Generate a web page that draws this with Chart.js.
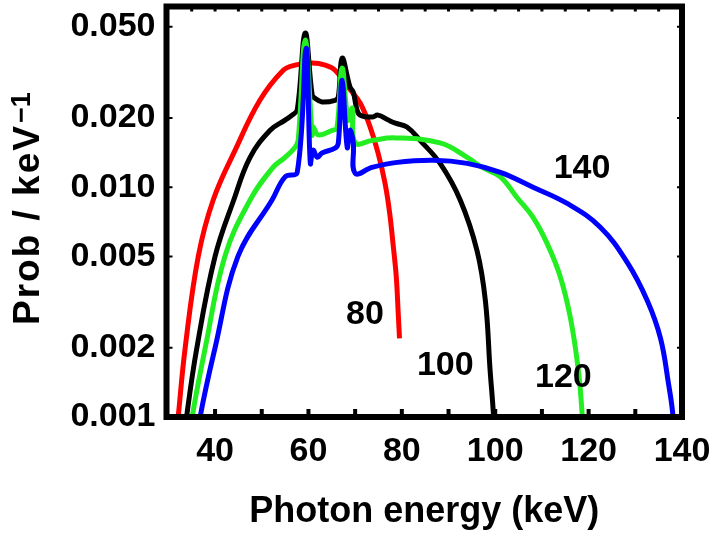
<!DOCTYPE html>
<html>
<head>
<meta charset="utf-8">
<script src="https://cdn.jsdelivr.net/npm/chart.js@4.4.0/dist/chart.umd.min.js"></script>
<style>
body { margin: 0; background: #fff; }
</style>
</head>
<body>
<canvas id="grafica" width="714" height="539"></canvas>
<script>
//SPECTRA (energy in keV, probability per keV)

var redE = [31.6, 32.1, 33.6, 36.4, 39.6, 44.3, 49.6, 54.6, 57.1, 60.8, 63.6, 65.7, 68.5, 71.1, 73.2, 74.9, 76.4, 77.4, 78.1, 78.8, 79.2, 79.5];
var redP = [0.0008, 0.001, 0.002, 0.005, 0.0088, 0.0145, 0.0239, 0.0323, 0.034, 0.0347, 0.034, 0.0323, 0.0273, 0.0232, 0.0183, 0.0141, 0.0104, 0.0077, 0.0057, 0.0041, 0.0029, 0.0022];

var blackE = [33.5, 33.9, 36.1, 40.0, 44.0, 47.5, 51.8, 55.0, 56.5, 57.6, 59.3, 60.8, 61.4, 62.9, 65.7, 66.4, 67.2, 68.9, 69.6, 70.4, 71.1, 73.6, 74.9, 77.1, 78.6, 81.1, 83.9, 88.2, 92.5, 96.1, 97.9, 98.9, 99.6, 99.8];
var blackP = [0.0008, 0.001, 0.002, 0.005, 0.0088, 0.0135, 0.0177, 0.0196, 0.0206, 0.0217, 0.0469, 0.0252, 0.0244, 0.0235, 0.0239, 0.0247, 0.0365, 0.0273, 0.0259, 0.0217, 0.0206, 0.0202, 0.0206, 0.0196, 0.019, 0.0183, 0.016, 0.0127, 0.0088, 0.0053, 0.0032, 0.0016, 0.00104, 0.0008];

var greenE = [34.7, 35.1, 37.9, 42.1, 47.5, 52.4, 55.0, 57.1, 57.8, 59.3, 60.8, 61.0, 62.1, 65.1, 66.1, 67.2, 68.5, 69.4, 70.0, 73.6, 78.6, 88.2, 94.0, 97.2, 101.1, 104.7, 108.1, 111.1, 113.9, 116.1, 117.8, 118.6, 118.9];
var greenP = [0.0008, 0.001, 0.002, 0.005, 0.0088, 0.0122, 0.0135, 0.0149, 0.016, 0.0437, 0.0169, 0.0183, 0.0169, 0.0177, 0.0181, 0.033, 0.0196, 0.0221, 0.0156, 0.016, 0.0164, 0.0156, 0.0135, 0.0122, 0.0111, 0.009, 0.0074, 0.0057, 0.0041, 0.0027, 0.0016, 0.00104, 0.0008];

var blueE = [36.4, 36.8, 40.0, 44.9, 52.2, 55.0, 57.6, 59.5, 60.4, 61.0, 61.9, 62.9, 65.7, 66.4, 67.2, 68.3, 68.9, 69.6, 70.0, 73.6, 78.6, 86.7, 94.0, 101.1, 108.1, 115.4, 122.5, 128.3, 132.6, 135.4, 137.1, 138.0, 138.2];
var blueP = [0.0008, 0.001, 0.002, 0.005, 0.0088, 0.0111, 0.0116, 0.0403, 0.0127, 0.0145, 0.0135, 0.0141, 0.0148, 0.0156, 0.0292, 0.0149, 0.0177, 0.0156, 0.0115, 0.0122, 0.0128, 0.0131, 0.0127, 0.0116, 0.01, 0.0085, 0.0067, 0.0047, 0.0032, 0.0022, 0.0014, 0.00104, 0.0008];

var xTicks = [40, 60, 80, 100, 120, 140];
var xBottomMarks = [40, 50, 60, 70, 80, 90, 100, 110, 120, 130];
var xTopMarks = [35, 40, 45, 50, 55, 60, 65, 70, 75, 80, 85, 90, 95, 100, 105, 110, 115, 120, 125, 130, 135];
var yTicks = [0.001, 0.002, 0.005, 0.01, 0.02, 0.05];

var curveLabels = ['80', '100', '120', '140'];
var labelE = [72.1, 89.3, 114.6, 118.6];
var labelP = [0.0028, 0.00168, 0.00149, 0.0121];

var fam = "'Liberation Sans', Arial, sans-serif";

function pts(e, p) {
    return e.map(function (v, i) { return {x: v, y: p[i]}; });
}

var frame = {
    id: 'frame',
    afterDatasetsDraw: function (chart) {
        var c = chart.ctx, a = chart.chartArea;
        var sx = chart.scales.x, sy = chart.scales.y;
        var i, p;
        c.save();
        c.strokeStyle = '#000';
        c.lineWidth = 6;
        c.strokeRect(a.left, a.top, a.right - a.left, a.bottom - a.top);

        c.lineWidth = 4;
        c.beginPath();
        for (i = 0; i < xBottomMarks.length; i++) {
            p = sx.getPixelForValue(xBottomMarks[i]);
            c.moveTo(p, a.bottom);
            c.lineTo(p, a.bottom - 8);
        }
        c.stroke();

        c.lineWidth = 3;
        c.beginPath();
        for (i = 0; i < xTopMarks.length; i++) {
            p = sx.getPixelForValue(xTopMarks[i]);
            c.moveTo(p, a.top);
            c.lineTo(p, a.top + 5);
        }
        c.stroke();

        c.lineWidth = 2;
        c.beginPath();
        for (i = 1; i < yTicks.length; i++) {
            p = sy.getPixelForValue(yTicks[i]);
            c.moveTo(a.left, p);
            c.lineTo(a.left + 6, p);
            c.moveTo(a.right, p);
            c.lineTo(a.right - 5, p);
        }
        c.stroke();

        c.fillStyle = '#000';
        c.font = 'bold 34px ' + fam;
        c.textAlign = 'center';
        c.textBaseline = 'middle';
        for (i = 0; i < curveLabels.length; i++) {
            c.fillText(curveLabels[i], sx.getPixelForValue(labelE[i]), sy.getPixelForValue(labelP[i]));
        }

        // y axis title with superscript
        c.translate(39, 325);
        c.rotate(-Math.PI / 2);
        c.textAlign = 'left';
        c.textBaseline = 'alphabetic';
        c.font = 'bold 37px ' + fam;
        c.letterSpacing = '2px';
        c.fillText('Prob / keV', 0, 0);
        var w = c.measureText('Prob / keV').width;
        c.font = 'bold 27px ' + fam;
        c.letterSpacing = '0px';
        c.fillText('\u22121', w + 1, -9);
        c.restore();
    }
};

var ctx = document.getElementById("grafica").getContext("2d");
var myChart = new Chart(ctx, {
    type: 'line',
    data: {
        datasets: [
            {label: '80', data: pts(redE, redP), borderColor: '#ff0000', order: 4},
            {label: '100', data: pts(blackE, blackP), borderColor: '#000000', order: 3},
            {label: '120', data: pts(greenE, greenP), borderColor: '#22ee22', order: 2},
            {label: '140', data: pts(blueE, blueP), borderColor: '#0000ff', order: 1}
        ]
    },
    options: {
        responsive: false,
        animation: false,
        devicePixelRatio: 1,
        layout: {padding: {left: 0, top: 6.5, right: 32, bottom: 0}},
        elements: {
            line: {borderWidth: 5, tension: 0.4, fill: false, borderJoinStyle: 'round'},
            point: {radius: 0}
        },
        plugins: {
            legend: {display: false},
            tooltip: {enabled: false}
        },
        scales: {
            x: {
                type: 'linear',
                min: 29.6,
                max: 140,
                grid: {display: false, drawTicks: false},
                border: {display: false},
                afterBuildTicks: function (s) {
                    s.ticks = xTicks.map(function (v) { return {value: v}; });
                },
                afterFit: function (s) {
                    s.height = 122;
                    s.paddingLeft = 0;
                    s.paddingRight = 0;
                },
                ticks: {
                    color: '#000',
                    padding: 14,
                    maxRotation: 0,
                    autoSkip: false,
                    font: {family: fam, size: 34, weight: 'bold'}
                },
                title: {
                    display: true,
                    text: 'Photon energy (keV)',
                    color: '#000',
                    padding: {top: 0, bottom: 5},
                    font: {family: fam, size: 36, weight: 'bold'}
                }
            },
            y: {
                type: 'logarithmic',
                min: 0.001,
                max: 0.0612,
                grid: {display: false, drawTicks: false},
                border: {display: false},
                afterBuildTicks: function (s) {
                    s.ticks = yTicks.map(function (v) { return {value: v}; });
                },
                afterFit: function (s) {
                    s.width = 166.5;
                    s.paddingTop = 0;
                    s.paddingBottom = 0;
                },
                ticks: {
                    color: '#000',
                    padding: 11,
                    autoSkip: false,
                    font: {family: fam, size: 34, weight: 'bold'},
                    callback: function (v) { return v.toFixed(3); }
                }
            }
        }
    },
    plugins: [frame]
});
</script>
</body>
</html>
